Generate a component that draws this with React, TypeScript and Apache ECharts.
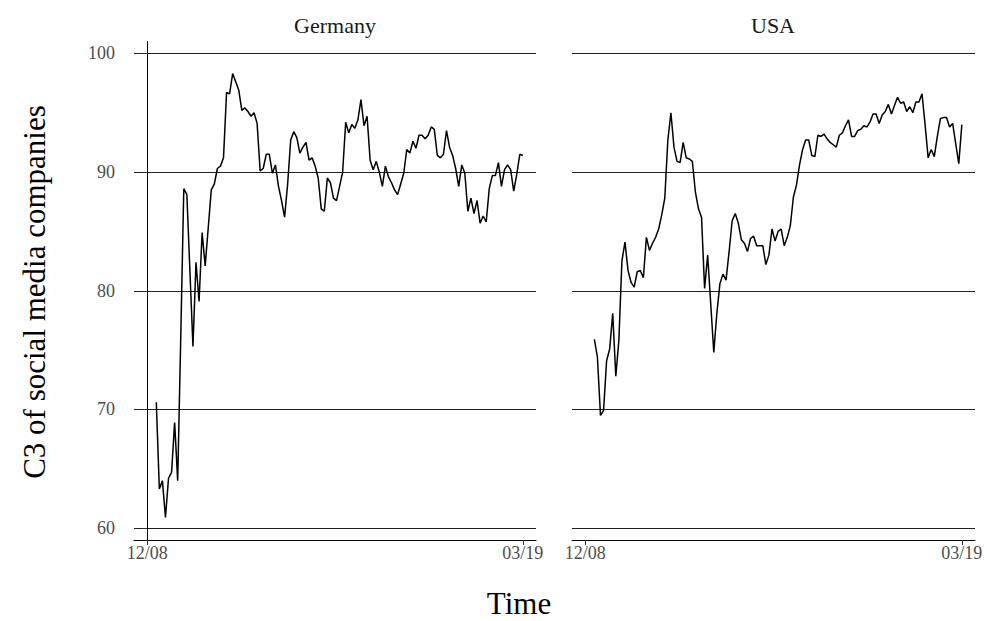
import React, { useEffect, useRef } from "react";
import * as echarts from "echarts";

// Monthly values, Mar 2009 – Mar 2019 (month index 3 … 123, Dec 2008 = 0)
const startIndex = 3;
const germany = [
  70.6, 63.3, 64.0, 60.9, 64.2, 64.7, 68.9, 64.0, 76.0, 88.6,
  88.1, 81.7, 75.3, 82.4, 79.1, 84.9, 82.1, 85.3, 88.5, 89.0,
  90.3, 90.5, 91.2, 96.7, 96.6, 98.3, 97.6, 96.9, 95.2, 95.4,
  95.1, 94.7, 95.0, 94.1, 90.1, 90.3, 91.5, 91.5, 89.9, 90.6,
  88.8, 87.6, 86.2, 89.0, 92.7, 93.4, 92.9, 91.6, 92.1, 92.5,
  91.0, 91.2, 90.5, 89.5, 86.9, 86.7, 89.5, 89.1, 87.8, 87.6,
  88.8, 90.0, 94.2, 93.3, 94.0, 93.7, 94.4, 96.1, 93.9, 94.7,
  91.0, 90.2, 90.9, 90.0, 88.8, 90.5, 89.6, 89.1, 88.5, 88.1,
  89.0, 89.9, 91.9, 91.6, 92.6, 92.0, 93.1, 93.1, 92.8, 93.1,
  93.8, 93.6, 91.4, 91.2, 91.5, 93.5, 92.1, 91.4, 90.3, 88.8,
  90.6, 89.9, 86.7, 87.8, 86.5, 87.6, 85.7, 86.3, 85.8, 88.6,
  89.7, 89.7, 90.8, 88.8, 90.2, 90.6, 90.2, 88.4, 89.8, 91.5,
  91.4,
];
const usa = [
  75.9, 74.4, 69.5, 69.9, 74.1, 75.1, 78.1, 72.8, 75.8, 82.5,
  84.1, 81.7, 80.7, 80.3, 81.6, 81.7, 81.1, 84.5, 83.4, 84.0,
  84.5, 85.2, 86.4, 87.8, 92.7, 95.0, 92.1, 90.9, 90.8, 92.5,
  91.2, 91.1, 90.9, 88.3, 86.9, 86.2, 80.2, 83.0, 78.9, 74.8,
  78.1, 80.6, 81.4, 80.9, 83.3, 85.9, 86.5, 85.7, 84.3, 84.0,
  83.3, 84.4, 84.6, 83.8, 83.8, 83.8, 82.2, 83.0, 85.2, 84.2,
  85.0, 85.2, 83.8, 84.5, 85.5, 87.9, 88.9, 90.6, 91.9, 92.7,
  92.7, 91.4, 91.3, 93.1, 93.0, 93.2, 92.8, 92.5, 92.3, 92.1,
  93.1, 93.3, 93.9, 94.4, 93.0, 93.0, 93.5, 93.6, 93.9, 93.8,
  94.2, 94.9, 94.9, 94.1, 94.8, 95.1, 95.7, 94.9, 95.6, 96.3,
  95.8, 95.9, 95.1, 95.5, 95.0, 95.9, 95.9, 96.6, 94.0, 91.2,
  91.9, 91.3, 93.0, 94.5, 94.6, 94.6, 93.8, 94.1, 92.4, 90.7,
  94.0,
];
const panelTitles = ["Germany", "USA"];
const xTickValues = [0, 123];
const xTickLabels = ["12/08", "03/19"];
const yTickValues = [60, 70, 80, 90, 100];
const yTitle = "C3 of social media companies";
const xTitle = "Time";

const FONT = "'Liberation Serif', 'DejaVu Serif', serif";

export default function App() {
  const ref = useRef<HTMLDivElement>(null);
  useEffect(() => {
    if (!ref.current) return;
    const chart = echarts.init(ref.current, undefined, { renderer: "svg" });
    const toPairs = (arr: number[]) => arr.map((v, i) => [startIndex + i, v]);
    const xAxisBase = (gridIndex: number) => ({
      type: "value",
      gridIndex,
      min: -4.3,
      max: 127.3,
      axisLine: { show: true, onZero: false, lineStyle: { color: "#000", width: 1 } },
      axisTick: { show: true, customValues: xTickValues, length: 5, lineStyle: { color: "#333" } },
      axisLabel: {
        customValues: xTickValues,
        formatter: (v: number) => xTickLabels[xTickValues.indexOf(v)] ?? "",
        color: "#4d4d4d",
        fontFamily: FONT,
        fontSize: 18,
        margin: 4,
      },
      splitLine: { show: false },
    });
    const yAxisBase = (gridIndex: number, showAxis: boolean) => ({
      type: "value",
      gridIndex,
      min: 59,
      max: 101,
      axisLine: { show: showAxis, lineStyle: { color: "#000", width: 1 } },
      axisTick: { show: showAxis, customValues: yTickValues, length: 5, lineStyle: { color: "#333" } },
      axisLabel: {
        show: showAxis,
        customValues: yTickValues,
        color: "#4d4d4d",
        fontFamily: FONT,
        fontSize: 18,
        margin: 19,
      },
      splitLine: { show: true, lineStyle: { color: "#222", width: 1 } },
    });
    chart.setOption({
      animation: false,
      backgroundColor: "#fff",
      grid: [
        { left: 134, right: 451, top: 41.5, bottom: 81 },
        { left: 572, right: 12, top: 41.5, bottom: 81 },
      ],
      xAxis: [xAxisBase(0), xAxisBase(1)],
      yAxis: [yAxisBase(0, true), yAxisBase(1, false)],
      series: [
        {
          type: "line",
          xAxisIndex: 0,
          yAxisIndex: 0,
          data: toPairs(germany),
          showSymbol: false,
          lineStyle: { color: "#000", width: 1.5 },
        },
        {
          type: "line",
          xAxisIndex: 1,
          yAxisIndex: 1,
          data: toPairs(usa),
          showSymbol: false,
          lineStyle: { color: "#000", width: 1.5 },
        },
      ],
      graphic: [
        {
          type: "text",
          x: 335,
          y: 25,
          style: { text: panelTitles[0], fontFamily: FONT, fontSize: 22, fill: "#1a1a1a", textAlign: "center", textVerticalAlign: "middle" },
        },
        {
          type: "text",
          x: 773,
          y: 25,
          style: { text: panelTitles[1], fontFamily: FONT, fontSize: 22, fill: "#1a1a1a", textAlign: "center", textVerticalAlign: "middle" },
        },
        {
          type: "text",
          x: 34,
          y: 292,
          rotation: Math.PI / 2,
          style: { text: yTitle, fontFamily: FONT, fontSize: 31, fill: "#000", textAlign: "center", textVerticalAlign: "middle" },
        },
        {
          type: "text",
          x: 519,
          y: 603,
          style: { text: xTitle, fontFamily: FONT, fontSize: 31, fill: "#000", textAlign: "center", textVerticalAlign: "middle" },
        },
      ],
    });
    return () => chart.dispose();
  }, []);
  return (
    <div
      ref={ref}
      style={{ position: "absolute", left: 0, top: 0, width: 987, height: 621 }}
    />
  );
}
